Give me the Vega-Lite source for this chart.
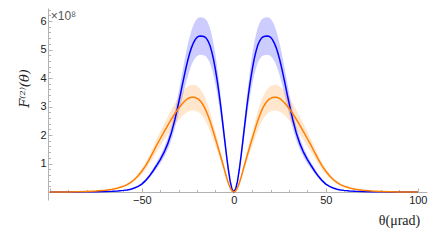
{
  "$schema": "https://vega.github.io/schema/vega-lite/v6.json",
  "width": 379,
  "height": 192,
  "autosize": {"type": "none"},
  "padding": {"left": 48, "top": 8, "right": 9, "bottom": 44},
  "config": {"view": {"stroke": null}},
  "data": {"values": [
    {"x":-100,"b":0,"bl":0,"bh":0,"o":0,"ol":0,"oh":0},
    {"x":-95,"b":0.001,"bl":0.001,"bh":0.001,"o":0.002,"ol":0.002,"oh":0.002},
    {"x":-90,"b":0.002,"bl":0.002,"bh":0.002,"o":0.005,"ol":0.005,"oh":0.005},
    {"x":-85,"b":0.003,"bl":0.003,"bh":0.003,"o":0.01,"ol":0.009,"oh":0.011},
    {"x":-80,"b":0.006,"bl":0.005,"bh":0.007,"o":0.018,"ol":0.015,"oh":0.02},
    {"x":-75,"b":0.01,"bl":0.009,"bh":0.011,"o":0.033,"ol":0.028,"oh":0.037},
    {"x":-70,"b":0.018,"bl":0.016,"bh":0.02,"o":0.06,"ol":0.052,"oh":0.068},
    {"x":-66,"b":0.028,"bl":0.025,"bh":0.031,"o":0.095,"ol":0.082,"oh":0.107},
    {"x":-63,"b":0.04,"bl":0.035,"bh":0.045,"o":0.14,"ol":0.12,"oh":0.158},
    {"x":-60,"b":0.058,"bl":0.051,"bh":0.065,"o":0.2,"ol":0.172,"oh":0.226},
    {"x":-58,"b":0.075,"bl":0.066,"bh":0.084,"o":0.26,"ol":0.224,"oh":0.294},
    {"x":-56,"b":0.1,"bl":0.088,"bh":0.112,"o":0.34,"ol":0.292,"oh":0.384},
    {"x":-54,"b":0.14,"bl":0.123,"bh":0.157,"o":0.44,"ol":0.378,"oh":0.497},
    {"x":-52,"b":0.2,"bl":0.176,"bh":0.224,"o":0.57,"ol":0.49,"oh":0.644},
    {"x":-50,"b":0.28,"bl":0.246,"bh":0.314,"o":0.73,"ol":0.628,"oh":0.825},
    {"x":-48,"b":0.4,"bl":0.352,"bh":0.448,"o":0.92,"ol":0.791,"oh":1.04},
    {"x":-46,"b":0.55,"bl":0.484,"bh":0.616,"o":1.14,"ol":0.98,"oh":1.288},
    {"x":-44,"b":0.73,"bl":0.642,"bh":0.818,"o":1.38,"ol":1.187,"oh":1.559},
    {"x":-42,"b":0.93,"bl":0.818,"bh":1.042,"o":1.64,"ol":1.41,"oh":1.853},
    {"x":-40,"b":1.14,"bl":1.003,"bh":1.277,"o":1.87,"ol":1.608,"oh":2.113},
    {"x":-38,"b":1.38,"bl":1.214,"bh":1.546,"o":2.1,"ol":1.806,"oh":2.373},
    {"x":-36,"b":1.68,"bl":1.478,"bh":1.882,"o":2.33,"ol":2.004,"oh":2.633},
    {"x":-34,"b":2.06,"bl":1.813,"bh":2.307,"o":2.55,"ol":2.193,"oh":2.882},
    {"x":-32,"b":2.55,"bl":2.244,"bh":2.856,"o":2.76,"ol":2.374,"oh":3.119},
    {"x":-30,"b":3.13,"bl":2.754,"bh":3.506,"o":2.94,"ol":2.528,"oh":3.322},
    {"x":-29,"b":3.44,"bl":3.027,"bh":3.853,"o":3.02,"ol":2.597,"oh":3.413},
    {"x":-28,"b":3.75,"bl":3.3,"bh":4.2,"o":3.1,"ol":2.666,"oh":3.503},
    {"x":-27,"b":4.06,"bl":3.573,"bh":4.547,"o":3.17,"ol":2.726,"oh":3.582},
    {"x":-26,"b":4.36,"bl":3.837,"bh":4.883,"o":3.23,"ol":2.778,"oh":3.65},
    {"x":-25,"b":4.63,"bl":4.074,"bh":5.186,"o":3.28,"ol":2.821,"oh":3.706},
    {"x":-24,"b":4.87,"bl":4.286,"bh":5.454,"o":3.31,"ol":2.847,"oh":3.74},
    {"x":-23,"b":5.07,"bl":4.462,"bh":5.678,"o":3.33,"ol":2.864,"oh":3.763},
    {"x":-22,"b":5.23,"bl":4.602,"bh":5.858,"o":3.33,"ol":2.864,"oh":3.763},
    {"x":-21,"b":5.35,"bl":4.708,"bh":5.992,"o":3.32,"ol":2.855,"oh":3.752},
    {"x":-20,"b":5.43,"bl":4.778,"bh":6.082,"o":3.29,"ol":2.829,"oh":3.718},
    {"x":-19,"b":5.47,"bl":4.814,"bh":6.126,"o":3.25,"ol":2.795,"oh":3.673},
    {"x":-18,"b":5.48,"bl":4.822,"bh":6.138,"o":3.18,"ol":2.735,"oh":3.593},
    {"x":-17,"b":5.47,"bl":4.814,"bh":6.126,"o":3.09,"ol":2.657,"oh":3.492},
    {"x":-16,"b":5.45,"bl":4.796,"bh":6.104,"o":2.98,"ol":2.563,"oh":3.367},
    {"x":-15,"b":5.4,"bl":4.752,"bh":6.048,"o":2.84,"ol":2.442,"oh":3.209},
    {"x":-14,"b":5.3,"bl":4.664,"bh":5.936,"o":2.68,"ol":2.305,"oh":3.028},
    {"x":-13,"b":5.15,"bl":4.532,"bh":5.768,"o":2.5,"ol":2.15,"oh":2.825},
    {"x":-12,"b":4.93,"bl":4.338,"bh":5.522,"o":2.3,"ol":1.978,"oh":2.599},
    {"x":-11,"b":4.65,"bl":4.092,"bh":5.208,"o":2.09,"ol":1.797,"oh":2.362},
    {"x":-10,"b":4.3,"bl":3.784,"bh":4.816,"o":1.88,"ol":1.617,"oh":2.124},
    {"x":-9,"b":3.9,"bl":3.432,"bh":4.368,"o":1.66,"ol":1.428,"oh":1.876},
    {"x":-8,"b":3.45,"bl":3.036,"bh":3.864,"o":1.44,"ol":1.238,"oh":1.627},
    {"x":-7,"b":2.95,"bl":2.596,"bh":3.304,"o":1.22,"ol":1.049,"oh":1.379},
    {"x":-6,"b":2.4,"bl":2.112,"bh":2.688,"o":0.99,"ol":0.851,"oh":1.119},
    {"x":-5,"b":1.85,"bl":1.628,"bh":2.072,"o":0.76,"ol":0.654,"oh":0.859},
    {"x":-4,"b":1.3,"bl":1.144,"bh":1.456,"o":0.53,"ol":0.456,"oh":0.599},
    {"x":-3,"b":0.8,"bl":0.704,"bh":0.896,"o":0.32,"ol":0.275,"oh":0.362},
    {"x":-2,"b":0.38,"bl":0.334,"bh":0.426,"o":0.15,"ol":0.129,"oh":0.17},
    {"x":-1,"b":0.1,"bl":0.088,"bh":0.112,"o":0.04,"ol":0.034,"oh":0.045},
    {"x":0,"b":0,"bl":0,"bh":0,"o":0,"ol":0,"oh":0},
    {"x":1,"b":0.1,"bl":0.088,"bh":0.112,"o":0.04,"ol":0.034,"oh":0.045},
    {"x":2,"b":0.38,"bl":0.334,"bh":0.426,"o":0.15,"ol":0.129,"oh":0.17},
    {"x":3,"b":0.8,"bl":0.704,"bh":0.896,"o":0.32,"ol":0.275,"oh":0.362},
    {"x":4,"b":1.3,"bl":1.144,"bh":1.456,"o":0.53,"ol":0.456,"oh":0.599},
    {"x":5,"b":1.85,"bl":1.628,"bh":2.072,"o":0.76,"ol":0.654,"oh":0.859},
    {"x":6,"b":2.4,"bl":2.112,"bh":2.688,"o":0.99,"ol":0.851,"oh":1.119},
    {"x":7,"b":2.95,"bl":2.596,"bh":3.304,"o":1.22,"ol":1.049,"oh":1.379},
    {"x":8,"b":3.45,"bl":3.036,"bh":3.864,"o":1.44,"ol":1.238,"oh":1.627},
    {"x":9,"b":3.9,"bl":3.432,"bh":4.368,"o":1.66,"ol":1.428,"oh":1.876},
    {"x":10,"b":4.3,"bl":3.784,"bh":4.816,"o":1.88,"ol":1.617,"oh":2.124},
    {"x":11,"b":4.65,"bl":4.092,"bh":5.208,"o":2.09,"ol":1.797,"oh":2.362},
    {"x":12,"b":4.93,"bl":4.338,"bh":5.522,"o":2.3,"ol":1.978,"oh":2.599},
    {"x":13,"b":5.15,"bl":4.532,"bh":5.768,"o":2.5,"ol":2.15,"oh":2.825},
    {"x":14,"b":5.3,"bl":4.664,"bh":5.936,"o":2.68,"ol":2.305,"oh":3.028},
    {"x":15,"b":5.4,"bl":4.752,"bh":6.048,"o":2.84,"ol":2.442,"oh":3.209},
    {"x":16,"b":5.45,"bl":4.796,"bh":6.104,"o":2.98,"ol":2.563,"oh":3.367},
    {"x":17,"b":5.47,"bl":4.814,"bh":6.126,"o":3.09,"ol":2.657,"oh":3.492},
    {"x":18,"b":5.48,"bl":4.822,"bh":6.138,"o":3.18,"ol":2.735,"oh":3.593},
    {"x":19,"b":5.47,"bl":4.814,"bh":6.126,"o":3.25,"ol":2.795,"oh":3.673},
    {"x":20,"b":5.43,"bl":4.778,"bh":6.082,"o":3.29,"ol":2.829,"oh":3.718},
    {"x":21,"b":5.35,"bl":4.708,"bh":5.992,"o":3.32,"ol":2.855,"oh":3.752},
    {"x":22,"b":5.23,"bl":4.602,"bh":5.858,"o":3.33,"ol":2.864,"oh":3.763},
    {"x":23,"b":5.07,"bl":4.462,"bh":5.678,"o":3.33,"ol":2.864,"oh":3.763},
    {"x":24,"b":4.87,"bl":4.286,"bh":5.454,"o":3.31,"ol":2.847,"oh":3.74},
    {"x":25,"b":4.63,"bl":4.074,"bh":5.186,"o":3.28,"ol":2.821,"oh":3.706},
    {"x":26,"b":4.36,"bl":3.837,"bh":4.883,"o":3.23,"ol":2.778,"oh":3.65},
    {"x":27,"b":4.06,"bl":3.573,"bh":4.547,"o":3.17,"ol":2.726,"oh":3.582},
    {"x":28,"b":3.75,"bl":3.3,"bh":4.2,"o":3.1,"ol":2.666,"oh":3.503},
    {"x":29,"b":3.44,"bl":3.027,"bh":3.853,"o":3.02,"ol":2.597,"oh":3.413},
    {"x":30,"b":3.13,"bl":2.754,"bh":3.506,"o":2.94,"ol":2.528,"oh":3.322},
    {"x":32,"b":2.55,"bl":2.244,"bh":2.856,"o":2.76,"ol":2.374,"oh":3.119},
    {"x":34,"b":2.06,"bl":1.813,"bh":2.307,"o":2.55,"ol":2.193,"oh":2.882},
    {"x":36,"b":1.68,"bl":1.478,"bh":1.882,"o":2.33,"ol":2.004,"oh":2.633},
    {"x":38,"b":1.38,"bl":1.214,"bh":1.546,"o":2.1,"ol":1.806,"oh":2.373},
    {"x":40,"b":1.14,"bl":1.003,"bh":1.277,"o":1.87,"ol":1.608,"oh":2.113},
    {"x":42,"b":0.93,"bl":0.818,"bh":1.042,"o":1.64,"ol":1.41,"oh":1.853},
    {"x":44,"b":0.73,"bl":0.642,"bh":0.818,"o":1.38,"ol":1.187,"oh":1.559},
    {"x":46,"b":0.55,"bl":0.484,"bh":0.616,"o":1.14,"ol":0.98,"oh":1.288},
    {"x":48,"b":0.4,"bl":0.352,"bh":0.448,"o":0.92,"ol":0.791,"oh":1.04},
    {"x":50,"b":0.28,"bl":0.246,"bh":0.314,"o":0.73,"ol":0.628,"oh":0.825},
    {"x":52,"b":0.2,"bl":0.176,"bh":0.224,"o":0.57,"ol":0.49,"oh":0.644},
    {"x":54,"b":0.14,"bl":0.123,"bh":0.157,"o":0.44,"ol":0.378,"oh":0.497},
    {"x":56,"b":0.1,"bl":0.088,"bh":0.112,"o":0.34,"ol":0.292,"oh":0.384},
    {"x":58,"b":0.075,"bl":0.066,"bh":0.084,"o":0.26,"ol":0.224,"oh":0.294},
    {"x":60,"b":0.058,"bl":0.051,"bh":0.065,"o":0.2,"ol":0.172,"oh":0.226},
    {"x":63,"b":0.04,"bl":0.035,"bh":0.045,"o":0.14,"ol":0.12,"oh":0.158},
    {"x":66,"b":0.028,"bl":0.025,"bh":0.031,"o":0.095,"ol":0.082,"oh":0.107},
    {"x":70,"b":0.018,"bl":0.016,"bh":0.02,"o":0.06,"ol":0.052,"oh":0.068},
    {"x":75,"b":0.01,"bl":0.009,"bh":0.011,"o":0.033,"ol":0.028,"oh":0.037},
    {"x":80,"b":0.006,"bl":0.005,"bh":0.007,"o":0.018,"ol":0.015,"oh":0.02},
    {"x":85,"b":0.003,"bl":0.003,"bh":0.003,"o":0.01,"ol":0.009,"oh":0.011},
    {"x":90,"b":0.002,"bl":0.002,"bh":0.002,"o":0.005,"ol":0.005,"oh":0.005},
    {"x":95,"b":0.001,"bl":0.001,"bh":0.001,"o":0.002,"ol":0.002,"oh":0.002},
    {"x":100,"b":0,"bl":0,"bh":0,"o":0,"ol":0,"oh":0}
  ]},
  "encoding": {
    "x": {
      "field": "x", "type": "quantitative",
      "scale": {"domain": [-101, 105], "nice": false, "zero": false},
      "axis": {
        "values": [-100,-90,-80,-70,-60,-50,-40,-30,-20,-10,0,10,20,30,40,50,60,70,80,90,100],
        "labelExpr": "datum.value % 50 === 0 && datum.value !== -100 ? datum.label : ''",
        "tickSize": {"condition": {"test": "datum.value % 50 === 0", "value": -4}, "value": -2.5},
        "offset": -8,
        "grid": false,
        "domainColor": "#b3b3b3",
        "tickColor": "#b3b3b3",
        "labelFont": "Liberation Sans",
        "labelFontSize": 11,
        "labelColor": "#222222",
        "labelPadding": 6,
        "labelFlush": false,
        "labelOverlap": false,
        "title": "θ(μrad)",
        "titleFont": "Liberation Serif",
        "titleFontSize": 14,
        "titleFontWeight": "normal",
        "titleColor": "#222222",
        "titleX": 351,
        "titleY": 28,
        "titleAlign": "center",
        "titleBaseline": "middle"
      }
    },
    "y": {
      "field": "b", "type": "quantitative",
      "scale": {"domain": [-0.28, 6.46], "nice": false, "zero": false},
      "axis": {
        "values": [0,0.2,0.4,0.6,0.8,1,1.2,1.4,1.6,1.8,2,2.2,2.4,2.6,2.8,3,3.2,3.4,3.6,3.8,4,4.2,4.4,4.6,4.8,5,5.2,5.4,5.6,5.8,6,6.2,6.4],
        "format": "~g",
        "labelExpr": "datum.value % 1 === 0 && datum.value > 0 ? datum.label : ''",
        "tickSize": {"condition": {"test": "datum.value % 1 === 0", "value": -4}, "value": -2.5},
        "grid": false,
        "domainColor": "#b3b3b3",
        "tickColor": "#b3b3b3",
        "labelFont": "Liberation Sans",
        "labelFontSize": 11,
        "labelColor": "#222222",
        "labelPadding": 6,
        "labelFlush": false,
        "labelOverlap": false,
        "title": "F⁽²⁾(θ)",
        "titleFont": "DejaVu Serif",
        "titleFontSize": 13,
        "titleFontStyle": "italic",
        "titleFontWeight": "normal",
        "titleColor": "#222222",
        "titleX": -24,
        "titleY": 80,
        "titleAlign": "center",
        "titleBaseline": "middle"
      }
    }
  },
  "layer": [
    {
      "mark": {"type": "area", "color": "#0000ff", "opacity": 0.2},
      "encoding": {
        "y": {"field": "bl", "type": "quantitative", "title": "F⁽²⁾(θ)"},
        "y2": {"field": "bh"}
      }
    },
    {
      "mark": {"type": "area", "color": "#ff8000", "opacity": 0.2},
      "encoding": {
        "y": {"field": "ol", "type": "quantitative", "title": "F⁽²⁾(θ)"},
        "y2": {"field": "oh"}
      }
    },
    {
      "mark": {"type": "line", "color": "#0000ff", "strokeWidth": 1.5},
      "encoding": {}
    },
    {
      "mark": {"type": "line", "color": "#ff7f00", "strokeWidth": 1.5},
      "encoding": {
        "y": {"field": "o", "type": "quantitative", "title": "F⁽²⁾(θ)"}
      }
    },
    {
      "data": {"values": [{"lab": "×10⁸", "px": -99.5, "py": 6.18}]},
      "mark": {"type": "text", "align": "left", "baseline": "middle", "font": "Liberation Sans", "fontSize": 12, "color": "#555555"},
      "encoding": {
        "y": {"field": "py", "type": "quantitative", "title": "F⁽²⁾(θ)"},
        "x": {"field": "px", "type": "quantitative"},
        "text": {"field": "lab"}
      }
    }
  ]
}
